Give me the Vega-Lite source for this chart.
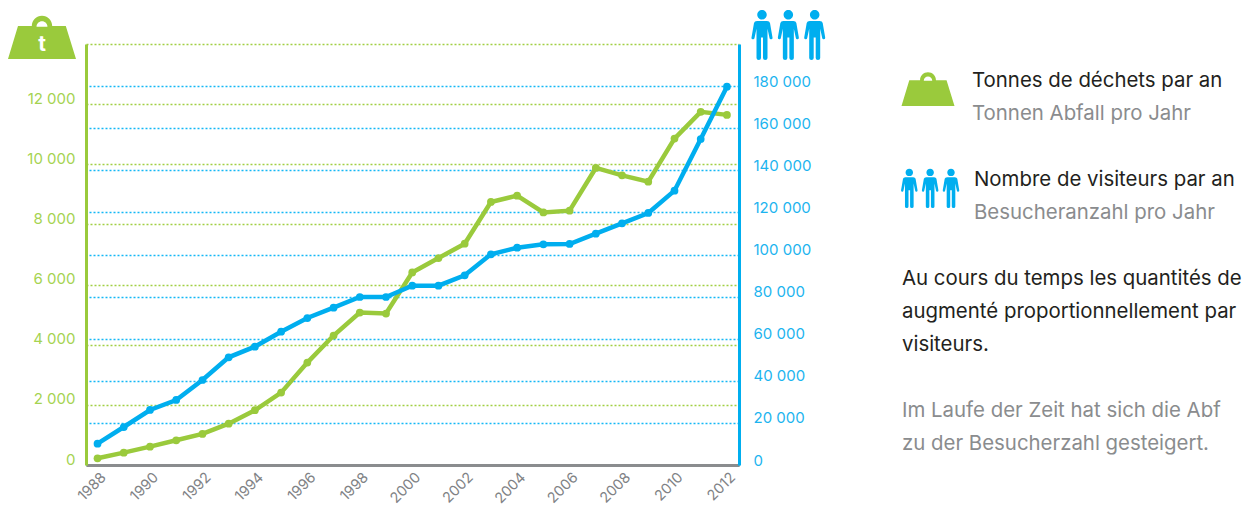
{
"$schema":"https://vega.github.io/schema/vega-lite/v6.json",
"width":653,"height":421,
"autosize":{"type":"none"},
"padding":{"left":86,"top":44,"right":504,"bottom":40},
"background":"white",
"config":{"view":{"stroke":null},"font":"Inter"},
"datasets":{
"series":[
{"annee":1988,"tonnes":223,"visiteurs":10120},{"annee":1989,"tonnes":410,"visiteurs":18050},{"annee":1990,"tonnes":610,"visiteurs":26130},{"annee":1991,"tonnes":822,"visiteurs":30880},{"annee":1992,"tonnes":1032,"visiteurs":40380},{"annee":1993,"tonnes":1375,"visiteurs":51160},{"annee":1994,"tonnes":1821,"visiteurs":56200},{"annee":1995,"tonnes":2407,"visiteurs":63330},{"annee":1996,"tonnes":3406,"visiteurs":69830},{"annee":1997,"tonnes":4305,"visiteurs":74730},{"annee":1998,"tonnes":5071,"visiteurs":79810},{"annee":1999,"tonnes":5037,"visiteurs":79810},{"annee":2000,"tonnes":6402,"visiteurs":85180},{"annee":2001,"tonnes":6882,"visiteurs":85180},{"annee":2002,"tonnes":7358,"visiteurs":90120},{"annee":2003,"tonnes":8746,"visiteurs":100090},{"annee":2004,"tonnes":8956,"visiteurs":103230},{"annee":2005,"tonnes":8400,"visiteurs":104850},{"annee":2006,"tonnes":8457,"visiteurs":104990},{"annee":2007,"tonnes":9878,"visiteurs":109880},{"annee":2008,"tonnes":9632,"visiteurs":114820},{"annee":2009,"tonnes":9422,"visiteurs":119720},{"annee":2010,"tonnes":10854,"visiteurs":130310},{"annee":2011,"tonnes":11743,"visiteurs":154870},{"annee":2012,"tonnes":11643,"visiteurs":179720}
],
"textes":[
{"ligne":1,"bloc":"tonnes","ton":"fr","texte":"Tonnes de déchets par an"},
{"ligne":2,"bloc":"tonnes","ton":"de","texte":"Tonnen Abfall pro Jahr"},
{"ligne":4,"bloc":"visiteurs","ton":"fr","texte":"Nombre de visiteurs par an"},
{"ligne":5,"bloc":"visiteurs","ton":"de","texte":"Besucheranzahl pro Jahr"},
{"ligne":7,"bloc":"note","ton":"fr","texte":"Au cours du temps les quantités de"},
{"ligne":8,"bloc":"note","ton":"fr","texte":"augmenté proportionnellement par"},
{"ligne":9,"bloc":"note","ton":"fr","texte":"visiteurs."},
{"ligne":11,"bloc":"note","ton":"de","texte":"Im Laufe der Zeit hat sich die Abf"},
{"ligne":12,"bloc":"note","ton":"de","texte":"zu der Besucherzahl gesteigert."}
],
"poids":[{"place":"axe"},{"place":"legende"}],
"gens":[
{"place":"axe","rang":1},{"place":"axe","rang":2},{"place":"axe","rang":3},
{"place":"legende","rang":1},{"place":"legende","rang":2},{"place":"legende","rang":3}
],
"lettre":[{"place":"axe","lettre":"t"}]
},
"resolve":{"scale":{"x":"independent","y":"independent","color":"independent","size":"independent"},"axis":{"x":"independent","y":"independent"}},
"layer":[
{
"data":{"name":"series"},
"mark":{"type":"line","color":"#9aca3c","strokeWidth":4.5,"point":{"filled":true,"color":"#9aca3c","size":60,"opacity":1}},
"encoding":{
"x":{"field":"annee","type":"quantitative","scale":{"domain":[1987.56,2012.46],"nice":false,"zero":false},
"axis":{"title":null,"values":[1988,1990,1992,1994,1996,1998,2000,2002,2004,2006,2008,2010,2012],"format":"d","grid":false,"ticks":false,"domainColor":"#8a8c8e","domainWidth":3,"labelAngle":-45,"labelAlign":"right","labelBaseline":"middle","labelColor":"#808285","labelFontSize":14.5,"labelPadding":10,"labelDx":15,"labelOffset":6,"labelOverlap":false,"labelFlush":false}},
"y":{"field":"tonnes","type":"quantitative","scale":{"domain":[0,14000],"nice":false},
"axis":{"orient":"left","title":null,"values":[0,2000,4000,6000,8000,10000,12000,14000],"labelExpr":"datum.value==14000?'':(datum.value==0?'0':format(datum.value/1000,'d')+' 000')","grid":true,"gridColor":"#a2d044","gridDash":[2,2],"gridWidth":1.4,"ticks":false,"domainColor":"#9aca3c","domainWidth":3,"labelColor":"#a5d351","labelFontSize":15,"labelPadding":11,"labelOffset":-6,"labelOverlap":false,"labelFlush":false}}
}
},
{
"data":{"name":"series"},
"mark":{"type":"line","color":"#00aeef","strokeWidth":4.5,"point":{"filled":true,"color":"#00aeef","size":60,"opacity":1}},
"encoding":{
"x":{"field":"annee","type":"quantitative","scale":{"domain":[1987.56,2012.46],"nice":false,"zero":false},"axis":null},
"y":{"field":"visiteurs","type":"quantitative","scale":{"domain":[0,200000],"nice":false},
"axis":{"orient":"right","title":null,"values":[0,20000,40000,60000,80000,100000,120000,140000,160000,180000],"labelExpr":"datum.value==0?'0':format(datum.value/1000,'d')+' 000'","grid":true,"gridColor":"#14b8f5","gridDash":[2,2],"gridWidth":1.4,"ticks":false,"domainColor":"#00aeef","domainWidth":3,"labelColor":"#1cb4ef","labelFontSize":15,"labelPadding":14,"labelOffset":-5,"labelOverlap":false,"labelFlush":false}}
}
},
{
"data":{"name":"poids"},
"mark":{"type":"point","filled":true,"opacity":1,"strokeWidth":0,"color":"#9aca3c","shape":"M -0.706 -0.353 L -0.3 -0.353 A 0.3 0.3 0 0 1 0.3 -0.353 L 0.7 -0.353 L 1 0.62 L -1 0.62 Z M -0.16 -0.33 L 0.16 -0.33 A 0.16 0.16 0 0 0 -0.16 -0.33 Z"},
"encoding":{
"x":{"field":"place","type":"nominal","scale":{"type":"point","padding":0,"domain":["axe","legende"],"range":[-44,842]},"axis":null},
"y":{"field":"place","type":"nominal","scale":{"type":"point","padding":0,"domain":["axe","legende"],"range":[-6,45.5]},"axis":null},
"size":{"field":"place","type":"nominal","scale":{"type":"ordinal","domain":["axe","legende"],"range":[4624,2809]},"legend":null}
}
},
{
"data":{"name":"lettre"},
"mark":{"type":"text","color":"white","font":"Inter","fontWeight":"bold","fontSize":21,"align":"center","baseline":"middle"},
"encoding":{
"x":{"field":"place","type":"nominal","scale":{"type":"point","padding":0,"domain":["axe","x"],"range":[-44,0]},"axis":null},
"y":{"field":"place","type":"nominal","scale":{"type":"point","padding":0,"domain":["axe","x"],"range":[1,10]},"axis":null},
"text":{"field":"lettre"}
}
},
{
"data":{"name":"gens"},
"transform":[{"filter":"datum.place=='axe'"}],
"mark":{"type":"point","filled":true,"opacity":1,"strokeWidth":0,"color":"#00aeef","size":2500,"shape":"M 0 -1 A 0.19 0.19 0 1 1 0 -0.62 A 0.19 0.19 0 1 1 0 -1 Z M -0.2 -0.56 L 0.2 -0.56 Q 0.3 -0.56 0.32 -0.48 L 0.42 0.1 Q 0.43 0.16 0.37 0.17 Q 0.31 0.18 0.3 0.12 L 0.22 -0.25 L 0.22 0.92 Q 0.22 1 0.13 1 Q 0.04 1 0.04 0.92 L 0.04 0.1 L -0.04 0.1 L -0.04 0.92 Q -0.04 1 -0.13 1 Q -0.22 1 -0.22 0.92 L -0.22 -0.25 L -0.3 0.12 Q -0.31 0.18 -0.37 0.17 Q -0.43 0.16 -0.42 0.1 L -0.32 -0.48 Q -0.3 -0.56 -0.2 -0.56 Z"},
"encoding":{
"x":{"field":"rang","type":"ordinal","scale":{"type":"point","padding":0,"domain":[1,2,3],"range":[676,728.7]},"axis":null},
"y":{"field":"place","type":"nominal","scale":{"type":"point","padding":0,"domain":["axe","legende"],"range":[-9,144.3]},"axis":null}
}
},
{
"data":{"name":"gens"},
"transform":[{"filter":"datum.place=='legende'"}],
"mark":{"type":"point","filled":true,"opacity":1,"strokeWidth":0,"color":"#00aeef","size":1544,"shape":"M 0 -1 A 0.19 0.19 0 1 1 0 -0.62 A 0.19 0.19 0 1 1 0 -1 Z M -0.2 -0.56 L 0.2 -0.56 Q 0.3 -0.56 0.32 -0.48 L 0.42 0.1 Q 0.43 0.16 0.37 0.17 Q 0.31 0.18 0.3 0.12 L 0.22 -0.25 L 0.22 0.92 Q 0.22 1 0.13 1 Q 0.04 1 0.04 0.92 L 0.04 0.1 L -0.04 0.1 L -0.04 0.92 Q -0.04 1 -0.13 1 Q -0.22 1 -0.22 0.92 L -0.22 -0.25 L -0.3 0.12 Q -0.31 0.18 -0.37 0.17 Q -0.43 0.16 -0.42 0.1 L -0.32 -0.48 Q -0.3 -0.56 -0.2 -0.56 Z"},
"encoding":{
"x":{"field":"rang","type":"ordinal","scale":{"type":"point","padding":0,"domain":[1,2,3],"range":[823.3,865]},"axis":null},
"y":{"field":"place","type":"nominal","scale":{"type":"point","padding":0,"domain":["axe","legende"],"range":[-9,144.3]},"axis":null}
}
},
{
"data":{"name":"textes"},
"transform":[{"filter":"datum.bloc=='tonnes'"}],
"mark":{"type":"text","font":"Inter","fontSize":20.4,"align":"left","baseline":"middle"},
"encoding":{
"x":{"field":"bloc","type":"nominal","scale":{"type":"point","padding":0,"domain":["tonnes"],"range":[886,886]},"axis":null},
"y":{"field":"ligne","type":"ordinal","scale":{"type":"point","padding":0,"domain":[1,2,3,4,5,6,7,8,9,10,11,12],"range":[37,400]},"axis":null},
"color":{"field":"ton","type":"nominal","scale":{"domain":["fr","de"],"range":["#231f20","#8a8c8e"]},"legend":null},
"text":{"field":"texte"}
}
},
{
"data":{"name":"textes"},
"transform":[{"filter":"datum.bloc=='visiteurs'"}],
"mark":{"type":"text","font":"Inter","fontSize":20.4,"align":"left","baseline":"middle"},
"encoding":{
"x":{"field":"bloc","type":"nominal","scale":{"type":"point","padding":0,"domain":["visiteurs"],"range":[888,888]},"axis":null},
"y":{"field":"ligne","type":"ordinal","scale":{"type":"point","padding":0,"domain":[1,2,3,4,5,6,7,8,9,10,11,12],"range":[37,400]},"axis":null},
"color":{"field":"ton","type":"nominal","scale":{"domain":["fr","de"],"range":["#231f20","#8a8c8e"]},"legend":null},
"text":{"field":"texte"}
}
},
{
"data":{"name":"textes"},
"transform":[{"filter":"datum.bloc=='note'"}],
"mark":{"type":"text","font":"Inter","fontSize":20.4,"align":"left","baseline":"middle"},
"encoding":{
"x":{"field":"bloc","type":"nominal","scale":{"type":"point","padding":0,"domain":["note"],"range":[816,816]},"axis":null},
"y":{"field":"ligne","type":"ordinal","scale":{"type":"point","padding":0,"domain":[1,2,3,4,5,6,7,8,9,10,11,12],"range":[37,400]},"axis":null},
"color":{"field":"ton","type":"nominal","scale":{"domain":["fr","de"],"range":["#231f20","#8a8c8e"]},"legend":null},
"text":{"field":"texte"}
}
}
]
}
